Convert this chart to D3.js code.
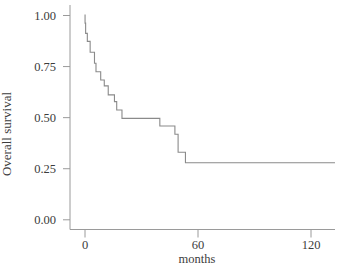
<!DOCTYPE html>
<html>
<head>
<meta charset="utf-8">
<script src="https://cdn.jsdelivr.net/npm/d3@7"></script>
<style>
  html, body { margin: 0; padding: 0; background: #fff; }
  svg { display: block; }
  text { font-family: "Liberation Serif", "Times New Roman", serif; fill: #3c3c3c; }
</style>
</head>
<body>
<svg id="chart" width="339" height="265"></svg>
<script>
// Kaplan-Meier step data (months, survival after event)
const eventTimes = [0, 0.3, 0.6, 1.5, 3.0, 5.3, 6.1, 8.6, 10.5, 12.6, 15.9, 17.1, 19.9, 40.0, 48.0, 49.7, 53.6, 133];
const survival   = [1.0, 0.96, 0.91, 0.871, 0.818, 0.764, 0.722, 0.682, 0.653, 0.609, 0.576, 0.535, 0.494, 0.457, 0.416, 0.328, 0.277, 0.277];
const xTicks = [0, 60, 120];
const yTicks = [0, 0.25, 0.5, 0.75, 1.0];
const xLabel = "months";
const yLabel = "Overall survival";

const svg = d3.select("#chart");
const x = d3.scaleLinear().domain([0, 60]).range([84.5, 197.5]);
const y = d3.scaleLinear().domain([0, 1]).range([219.3, 15]);

const axisColor = "#9a9a9a";
const textColor = "#3c3c3c";

// Y axis
const yAxis = svg.append("g").attr("transform", "translate(70,0)")
  .call(d3.axisLeft(y).tickValues(yTicks).tickFormat(d3.format(".2f")).tickSize(7).tickSizeOuter(0));
yAxis.select(".domain").remove();
yAxis.append("line").attr("x1", 0).attr("x2", 0).attr("y1", 5).attr("y2", 229.5).attr("stroke", axisColor);
yAxis.selectAll(".tick line").attr("stroke", axisColor);
yAxis.selectAll(".tick text").attr("x", -14).style("font-size", "12.5px")
  .style("font-family", "'Liberation Serif', serif").attr("fill", textColor);

// X axis
const xAxis = svg.append("g").attr("transform", "translate(0,229.5)")
  .call(d3.axisBottom(x).tickValues(xTicks).tickSize(8).tickSizeOuter(0));
xAxis.select(".domain").remove();
xAxis.append("line").attr("x1", 70).attr("x2", 335).attr("y1", 0).attr("y2", 0).attr("stroke", axisColor);
xAxis.selectAll(".tick line").attr("stroke", axisColor);
xAxis.selectAll(".tick text").attr("y", 11).style("font-size", "12.5px")
  .style("font-family", "'Liberation Serif', serif").attr("fill", textColor);

// Curve
const pts = eventTimes.map((t, i) => [t, survival[i]]);
const line = d3.line().x(d => x(d[0])).y(d => y(d[1])).curve(d3.curveStepAfter);
svg.append("path").datum(pts).attr("d", line)
  .attr("fill", "none").attr("stroke", "#8a8a8a").attr("stroke-width", 1.1);

// Labels
svg.append("text").attr("x", 197).attr("y", 263).attr("text-anchor", "middle")
  .style("font-size", "12.5px").text(xLabel);
svg.append("text").attr("transform", "translate(11,134) rotate(-90)").attr("text-anchor", "middle")
  .style("font-size", "13px").text(yLabel);
</script>
</body>
</html>
